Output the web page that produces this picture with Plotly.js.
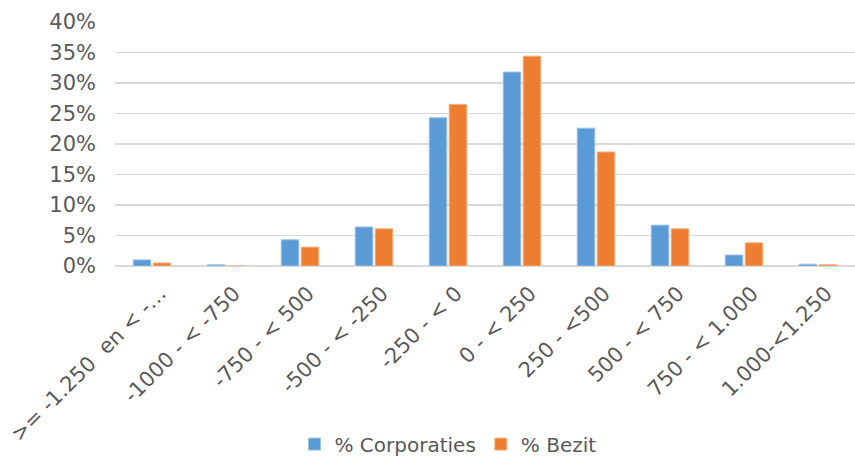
<!DOCTYPE html>
<html><head><meta charset="utf-8">
<script src="https://cdn.plot.ly/plotly-3.0.1.min.js"></script>
<style>html,body{margin:0;padding:0;background:#fff}#c{width:855px;height:459px}</style>
</head><body><div id="c"></div>
<script>
const categories = [">= -1.250\u00a0 en < -…", "-1000 - < -750", "-750 - < 500", "-500 - < -250", "-250 - < 0", "0 - < 250", "250 - <500", "500 - < 750", "750 - < 1.000", "1.000-<1.250"];
const corporaties = [0.010, 0.002, 0.043, 0.064, 0.243, 0.318, 0.226, 0.067, 0.018, 0.003];
const bezit = [0.005, 0.000, 0.031, 0.061, 0.265, 0.344, 0.187, 0.061, 0.038, 0.002];
const yTicks = [0, 0.05, 0.10, 0.15, 0.20, 0.25, 0.30, 0.35, 0.40];

const font = {family: "DejaVu Sans, Verdana, sans-serif", color: "#595959", size: 21};
const data = [
  {type: "bar", name: "% Corporaties", x: categories, y: corporaties,
   marker: {color: "#5b9bd5", line: {color: "#9dc3e6", width: 1}}},
  {type: "bar", name: "% Bezit", x: categories, y: bezit,
   marker: {color: "#ed7d31", line: {color: "#f4b183", width: 1}}}
];
const layout = {
  width: 855, height: 459,
  margin: {l: 115, r: 0, t: 22, b: 193, autoexpand: false},
  font: font,
  paper_bgcolor: "#fff", plot_bgcolor: "#fff",
  barmode: "group", bargap: 0.46, bargroupgap: 0.12,
  showlegend: true,
  legend: {orientation: "h", x: 0.45, xanchor: "center", y: -0.73, yanchor: "middle", font: {size: 20, color: "#595959"}, itemwidth: 30},
  xaxis: {type: "category", automargin: false, tickangle: -45, showgrid: false, zeroline: false, showline: false, ticks: "", tickfont: {size: 21}, ticklabelshift: 8, ticklabelstandoff: 10},
  yaxis: {range: [0, 0.4], automargin: false, tickvals: yTicks, tickformat: ".0%", gridcolor: "#d9d9d9", gridwidth: 1.5, zeroline: true, zerolinecolor: "#d9d9d9", zerolinewidth: 1.5, showline: false, ticks: "", ticklabelstandoff: 18, tickfont: {size: 21}}
};
Plotly.newPlot("c", data, layout, {displayModeBar: false, staticPlot: true});
</script></body></html>
